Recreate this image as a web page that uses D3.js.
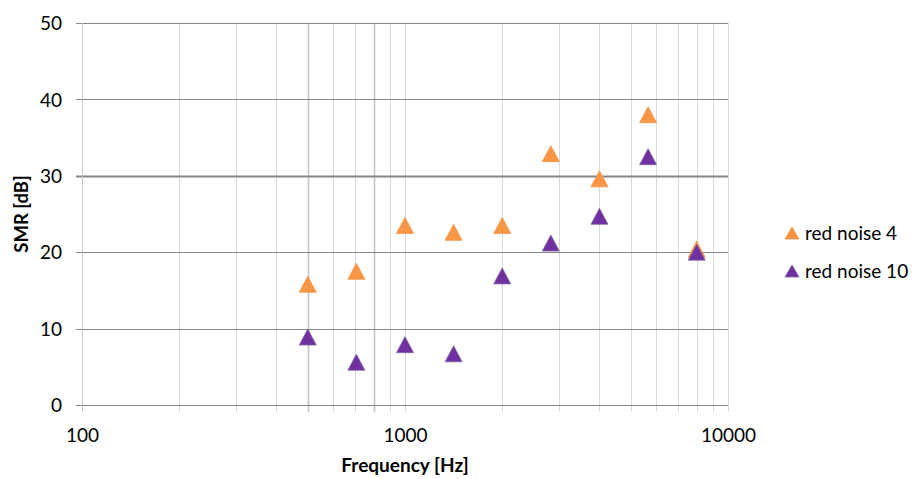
<!DOCTYPE html>
<html><head><meta charset="utf-8">
<script src="https://cdn.jsdelivr.net/npm/d3@7"></script>
<style>
body{margin:0;background:#fff;}
text{font-family:Lato,"Open Sans",sans-serif;fill:#000;}
</style></head>
<body><svg id="c" width="923" height="479"></svg>
<script>
const frequencies = [500, 707, 1000, 1414, 2000, 2828, 4000, 5657, 8000];
const redNoise4 = [15.8, 17.5, 23.5, 22.6, 23.5, 32.9, 29.6, 38.0, 20.4];
const redNoise10 = [8.9, 5.6, 7.9, 6.7, 16.9, 21.2, 24.7, 32.5, 20.0];
const seriesNames = ["red noise 4", "red noise 10"];
const seriesColors = ["#f79646", "#7030a0"];
const seriesStroke = ["#f79646", "#8064a2"];
const xTickLabels = [100, 1000, 10000];
const xMinorTicks = [100,200,300,400,500,600,700,800,900,1000,2000,3000,4000,5000,6000,7000,8000,9000,10000];
const yTicks = [0, 10, 20, 30, 40, 50];

const svg = d3.select("#c");
const x = d3.scaleLog().domain([100, 10000]).range([82, 728]);
const y = d3.scaleLinear().domain([0, 50]).range([405, 23]);

// vertical minor gridlines
svg.append("g").selectAll("line").data(xMinorTicks).join("line")
  .attr("x1", d => Math.round(x(d)) + 0.5).attr("x2", d => Math.round(x(d)) + 0.5)
  .attr("y1", y(50)).attr("y2", y(0) + 7)
  .attr("stroke", d => (d === 500 || d === 800) ? "#c4c4c4" : "#d9d9d9")
  .attr("stroke-width", d => (d === 500 || d === 800) ? 1.6 : 1);

// horizontal gridlines
svg.append("g").selectAll("line").data(yTicks).join("line")
  .attr("x1", x(100) - 6).attr("x2", x(10000))
  .attr("y1", d => Math.round(y(d)) + 0.5).attr("y2", d => Math.round(y(d)) + 0.5)
  .attr("stroke", "#868686")
  .attr("stroke-width", d => d === 30 ? 2 : 1.2);

// y axis line
svg.append("line").attr("x1", x(100) + 0.5).attr("x2", x(100) + 0.5)
  .attr("y1", y(50)).attr("y2", y(0) + 7).attr("stroke", "#c8c8c8");

// y tick labels via axis
const yAxis = svg.append("g").attr("transform", `translate(${x(100) - 14},0)`)
  .call(d3.axisLeft(y).tickValues(yTicks).tickSize(0).tickPadding(6));
yAxis.select(".domain").remove();
yAxis.selectAll("text").style("font-size", "19px").attr("dy", "0.35em").style("fill", "#000");

// x tick labels via axis
const xAxis = svg.append("g").attr("transform", `translate(0,${y(0) + 20})`)
  .call(d3.axisBottom(x).tickValues(xTickLabels).tickFormat(d3.format("d")).tickSize(0).tickPadding(3));
xAxis.select(".domain").remove();
xAxis.selectAll("text").style("font-size", "19px").style("fill", "#000");

// axis titles
svg.append("text").attr("x", 405).attr("y", 472).attr("text-anchor", "middle")
  .style("font-size", "19px").style("font-weight", "bold").text("Frequency [Hz]");
svg.append("text").attr("transform", "translate(28,214) rotate(-90)").attr("text-anchor", "middle")
  .style("font-size", "18.5px").style("font-weight", "bold").text("SMR [dB]");

const tri = (w, h) => `M0,${-h/2}L${w/2},${h/2}L${-w/2},${h/2}Z`;
const series = [redNoise4, redNoise10];
series.forEach((vals, i) => {
  svg.append("g").selectAll("path").data(frequencies.map((f, j) => [f, vals[j]])).join("path")
    .attr("transform", d => `translate(${x(d[0])},${y(d[1])})`)
    .attr("d", tri(17, 16))
    .attr("fill", seriesColors[i]).attr("stroke", seriesStroke[i]).attr("stroke-width", 0.8);
});

// legend
const lg = svg.append("g");
seriesNames.forEach((n, i) => {
  const cy = 233 + i * 38;
  lg.append("path").attr("transform", `translate(792,${cy})`).attr("d", tri(14, 12))
    .attr("fill", seriesColors[i]).attr("stroke", seriesStroke[i]).attr("stroke-width", 0.8);
  lg.append("text").attr("x", 805).attr("y", cy).attr("dy", "0.35em")
    .style("font-size", "19px").text(n);
});
</script></body></html>
